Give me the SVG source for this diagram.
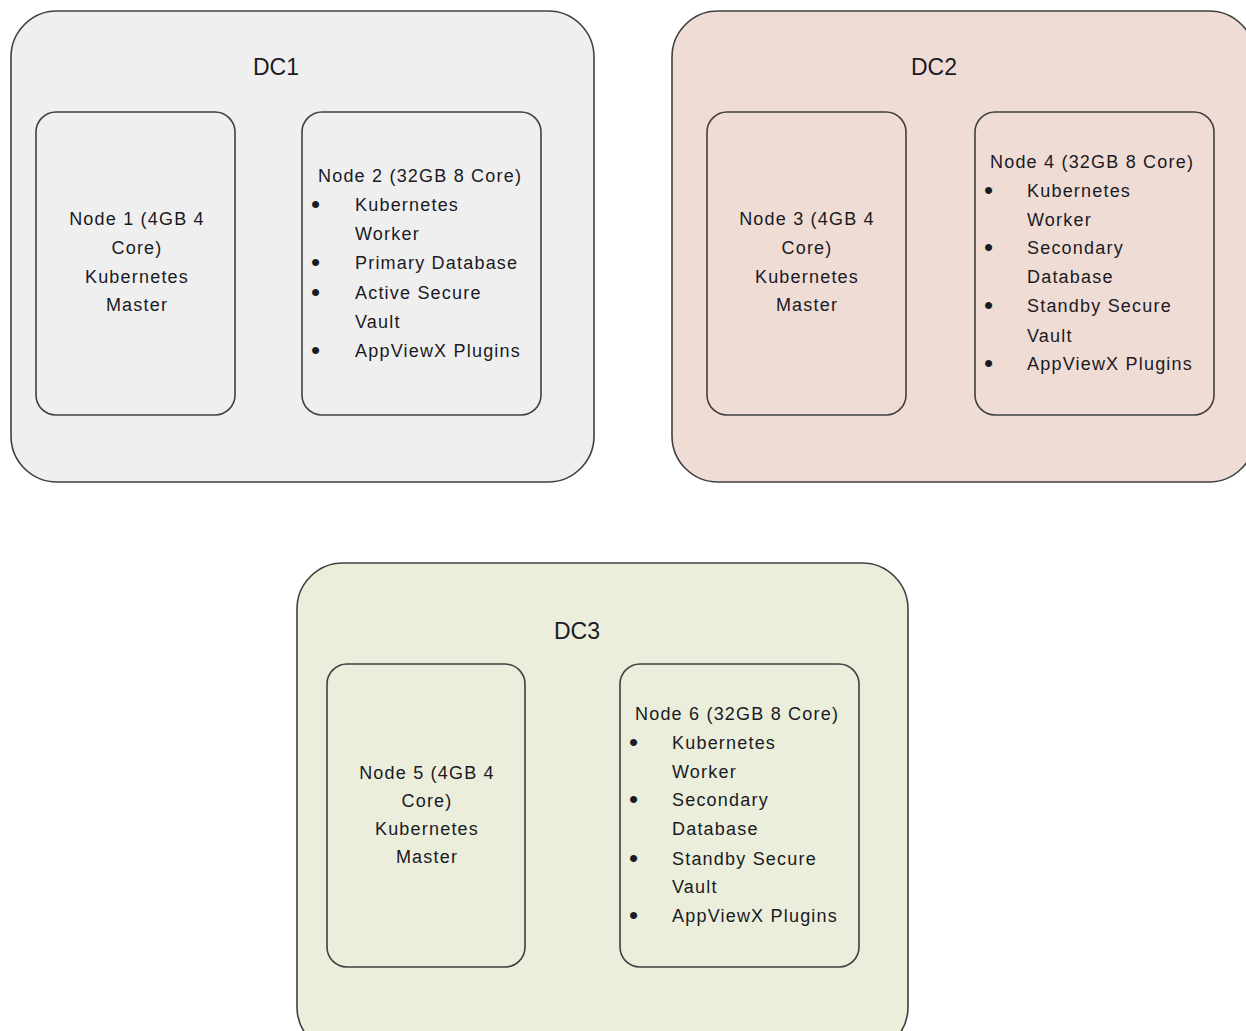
<svg xmlns="http://www.w3.org/2000/svg" width="1246" height="1031" viewBox="0 0 1246 1031">
<style>
.dc{stroke:#404040;stroke-width:1.6}
.nd{fill:none;stroke:#404040;stroke-width:1.6}
text{font-family:"Liberation Sans",Arial,sans-serif;fill:#1a1a24}
.lbl{font-size:23px;text-anchor:middle}
.t{font-size:18px;letter-spacing:1.2px}
.b{font-size:26px}
.c{text-anchor:middle}
</style>
<rect width="1246" height="1031" fill="#ffffff"/>
<g id="dc1">
<rect class="dc" x="11" y="11" width="583" height="471" rx="46" fill="#efefef"/>
<text class="lbl" x="276" y="75">DC1</text>
</g>
<g id="dc2">
<rect class="dc" x="672" y="11" width="583" height="471" rx="46" fill="#efdcd5"/>
<text class="lbl" x="934" y="75">DC2</text>
</g>
<g id="dc3">
<rect class="dc" x="297" y="563" width="611" height="490" rx="46" fill="#eaeedb"/>
<text class="lbl" x="577" y="639">DC3</text>
</g>
<g id="node1">
<rect class="nd" x="36" y="112" width="199" height="303" rx="20"/>
<text class="t c" x="137" y="225">Node 1 (4GB 4</text>
<text class="t c" x="137" y="254">Core)</text>
<text class="t c" x="137" y="283">Kubernetes</text>
<text class="t c" x="137" y="311">Master</text>
</g>
<g id="node2">
<rect class="nd" x="302" y="112" width="239" height="303" rx="20"/>
<text class="t" x="318" y="182">Node 2 (32GB 8 Core)</text>
<text class="b" x="311" y="213">•</text><text class="t" x="355" y="211">Kubernetes</text>
<text class="t" x="355" y="240">Worker</text>
<text class="b" x="311" y="271">•</text><text class="t" x="355" y="269">Primary Database</text>
<text class="b" x="311" y="301">•</text><text class="t" x="355" y="299">Active Secure</text>
<text class="t" x="355" y="328">Vault</text>
<text class="b" x="311" y="359">•</text><text class="t" x="355" y="357">AppViewX Plugins</text>
</g>
<g id="node3">
<rect class="nd" x="707" y="112" width="199" height="303" rx="20"/>
<text class="t c" x="807" y="225">Node 3 (4GB 4</text>
<text class="t c" x="807" y="254">Core)</text>
<text class="t c" x="807" y="283">Kubernetes</text>
<text class="t c" x="807" y="311">Master</text>
</g>
<g id="node4">
<rect class="nd" x="975" y="112" width="239" height="303" rx="20"/>
<text class="t" x="990" y="168">Node 4 (32GB 8 Core)</text>
<text class="b" x="984" y="199">•</text><text class="t" x="1027" y="197">Kubernetes</text>
<text class="t" x="1027" y="226">Worker</text>
<text class="b" x="984" y="256">•</text><text class="t" x="1027" y="254">Secondary</text>
<text class="t" x="1027" y="283">Database</text>
<text class="b" x="984" y="314">•</text><text class="t" x="1027" y="312">Standby Secure</text>
<text class="t" x="1027" y="342">Vault</text>
<text class="b" x="984" y="372">•</text><text class="t" x="1027" y="370">AppViewX Plugins</text>
</g>
<g id="node5">
<rect class="nd" x="327" y="664" width="198" height="303" rx="20"/>
<text class="t c" x="427" y="779">Node 5 (4GB 4</text>
<text class="t c" x="427" y="807">Core)</text>
<text class="t c" x="427" y="835">Kubernetes</text>
<text class="t c" x="427" y="863">Master</text>
</g>
<g id="node6">
<rect class="nd" x="620" y="664" width="239" height="303" rx="20"/>
<text class="t" x="635" y="720">Node 6 (32GB 8 Core)</text>
<text class="b" x="629" y="751">•</text><text class="t" x="672" y="749">Kubernetes</text>
<text class="t" x="672" y="778">Worker</text>
<text class="b" x="629" y="808">•</text><text class="t" x="672" y="806">Secondary</text>
<text class="t" x="672" y="835">Database</text>
<text class="b" x="629" y="867">•</text><text class="t" x="672" y="865">Standby Secure</text>
<text class="t" x="672" y="893">Vault</text>
<text class="b" x="629" y="924">•</text><text class="t" x="672" y="922">AppViewX Plugins</text>
</g>
<g id="connectors"/>
</svg>
